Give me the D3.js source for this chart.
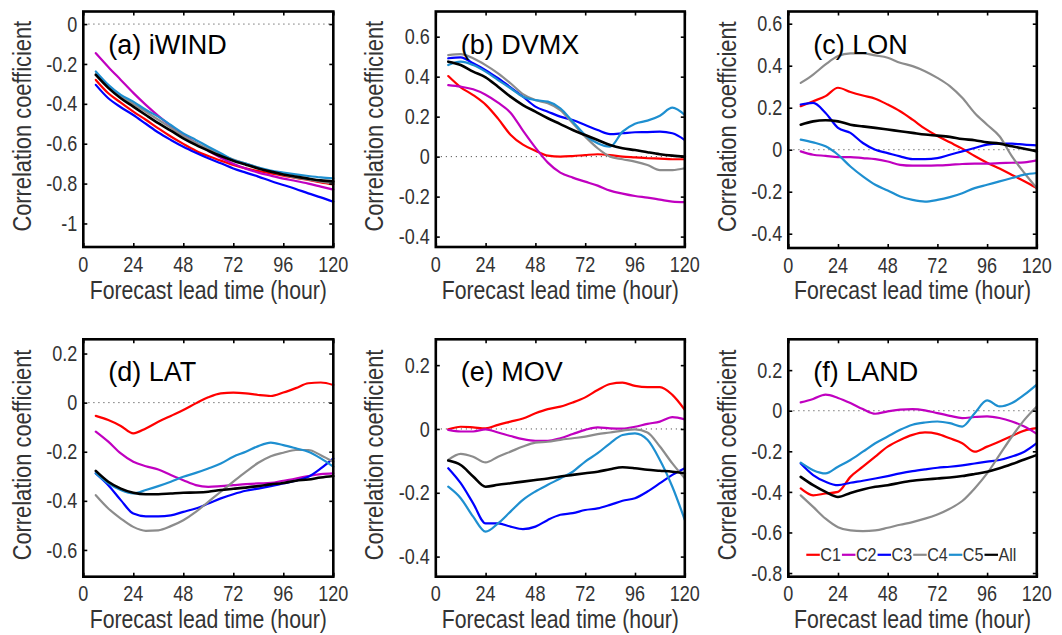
<!DOCTYPE html>
<html>
<head>
<meta charset="utf-8">
<script src="https://cdn.jsdelivr.net/npm/d3@7"></script>
<style>
  html, body { margin: 0; padding: 0; background: #fff; }
  svg { display: block; font-family: Arial, "Liberation Sans", Helvetica, sans-serif; }
</style>
</head>
<body>
<svg id="chart" width="1062" height="635"></svg>
<script>
// Forecast lead times (hours)
const hours = [6, 12, 18, 24, 30, 36, 42, 48, 54, 60, 66, 72, 78, 84, 90, 96, 102, 108, 114, 120];

const seriesNames = ["C1", "C2", "C3", "C4", "C5", "All"];
const seriesColors = ["#ff0000", "#c000c0", "#0000ff", "#8c8c8c", "#1e8fd0", "#000000"];
const xTicks = [0, 24, 48, 72, 96, 120];

// Correlation coefficients per predictor, one array per cluster
const iwindC1 = [-0.28, -0.347, -0.394, -0.439, -0.48, -0.523, -0.564, -0.601, -0.635, -0.662, -0.685, -0.707, -0.724, -0.737, -0.749, -0.76, -0.772, -0.782, -0.794, -0.804];
const iwindC2 = [-0.146, -0.215, -0.28, -0.345, -0.405, -0.46, -0.51, -0.555, -0.595, -0.635, -0.67, -0.70, -0.725, -0.745, -0.76, -0.775, -0.787, -0.80, -0.815, -0.83];
const iwindC3 = [-0.305, -0.372, -0.417, -0.456, -0.50, -0.544, -0.581, -0.615, -0.645, -0.673, -0.698, -0.724, -0.745, -0.765, -0.787, -0.807, -0.827, -0.849, -0.869, -0.891];
const iwindC4 = [-0.25, -0.31, -0.36, -0.40, -0.44, -0.48, -0.52, -0.56, -0.595, -0.625, -0.655, -0.68, -0.70, -0.72, -0.74, -0.755, -0.77, -0.78, -0.79, -0.80];
const iwindC5 = [-0.238, -0.305, -0.355, -0.389, -0.43, -0.464, -0.506, -0.548, -0.581, -0.615, -0.648, -0.682, -0.70, -0.72, -0.735, -0.745, -0.754, -0.762, -0.769, -0.774];
const iwindAll = [-0.255, -0.32, -0.372, -0.414, -0.456, -0.497, -0.534, -0.573, -0.606, -0.635, -0.662, -0.685, -0.705, -0.724, -0.74, -0.754, -0.765, -0.775, -0.784, -0.79];

const dvmxC1 = [0.403, 0.347, 0.308, 0.26, 0.19, 0.11, 0.06, 0.03, 0.005, 0, 0.003, 0.008, 0.012, 0.008, 0.0, -0.004, -0.008, -0.01, -0.013, -0.013];
const dvmxC2 = [0.358, 0.35, 0.337, 0.31, 0.27, 0.22, 0.13, 0.045, -0.03, -0.08, -0.105, -0.125, -0.145, -0.17, -0.185, -0.197, -0.205, -0.215, -0.225, -0.228];
const dvmxC3 = [0.492, 0.497, 0.467, 0.433, 0.392, 0.347, 0.30, 0.25, 0.225, 0.20, 0.183, 0.158, 0.133, 0.113, 0.117, 0.122, 0.123, 0.125, 0.117, 0.083];
const dvmxC4 = [0.508, 0.513, 0.492, 0.458, 0.417, 0.367, 0.313, 0.283, 0.267, 0.233, 0.167, 0.10, 0.042, 0, -0.013, -0.025, -0.042, -0.067, -0.067, -0.058];
const dvmxC5 = [0.458, 0.475, 0.458, 0.425, 0.383, 0.342, 0.30, 0.283, 0.275, 0.242, 0.175, 0.108, 0.067, 0.05, 0.125, 0.165, 0.18, 0.205, 0.245, 0.208];
const dvmxAll = [0.475, 0.458, 0.425, 0.397, 0.35, 0.30, 0.258, 0.225, 0.192, 0.163, 0.133, 0.108, 0.083, 0.058, 0.042, 0.033, 0.022, 0.012, 0.005, 0];

const lonC1 = [0.207, 0.231, 0.255, 0.295, 0.275, 0.258, 0.243, 0.215, 0.183, 0.143, 0.10, 0.065, 0.035, 0.005, -0.03, -0.062, -0.09, -0.12, -0.15, -0.183];
const lonC2 = [-0.008, -0.024, -0.029, -0.035, -0.035, -0.04, -0.045, -0.056, -0.072, -0.076, -0.076, -0.075, -0.072, -0.068, -0.066, -0.066, -0.064, -0.062, -0.06, -0.051];
const lonC3 = [0.215, 0.223, 0.175, 0.104, 0.08, 0.032, 0, -0.016, -0.032, -0.045, -0.045, -0.04, -0.024, -0.008, 0.008, 0.024, 0.029, 0.029, 0.024, 0.021];
const lonC4 = [0.318, 0.358, 0.406, 0.446, 0.459, 0.459, 0.449, 0.438, 0.414, 0.398, 0.374, 0.342, 0.303, 0.247, 0.175, 0.119, 0.064, -0.032, -0.111, -0.183];
const lonC5 = [0.048, 0.035, 0.016, -0.024, -0.08, -0.127, -0.167, -0.194, -0.223, -0.239, -0.247, -0.239, -0.226, -0.207, -0.183, -0.167, -0.151, -0.135, -0.119, -0.111];
const lonAll = [0.119, 0.135, 0.14, 0.135, 0.119, 0.111, 0.104, 0.096, 0.088, 0.08, 0.072, 0.067, 0.061, 0.051, 0.045, 0.035, 0.029, 0.016, 0.005, -0.008];

const latC1 = [-0.054, -0.071, -0.095, -0.125, -0.105, -0.078, -0.054, -0.03, -0.003, 0.022, 0.038, 0.041, 0.038, 0.031, 0.027, 0.041, 0.059, 0.079, 0.082, 0.072];
const latC2 = [-0.118, -0.159, -0.207, -0.241, -0.259, -0.272, -0.295, -0.316, -0.336, -0.343, -0.34, -0.336, -0.332, -0.329, -0.327, -0.318, -0.309, -0.299, -0.291, -0.288];
const latC3 = [-0.288, -0.336, -0.397, -0.452, -0.463, -0.463, -0.459, -0.445, -0.431, -0.411, -0.39, -0.373, -0.359, -0.35, -0.34, -0.329, -0.318, -0.302, -0.268, -0.227];
const latC4 = [-0.377, -0.431, -0.472, -0.506, -0.522, -0.52, -0.503, -0.479, -0.445, -0.404, -0.363, -0.322, -0.282, -0.245, -0.218, -0.204, -0.193, -0.193, -0.214, -0.241];
const latC5 = [-0.288, -0.329, -0.356, -0.37, -0.356, -0.34, -0.322, -0.302, -0.286, -0.268, -0.248, -0.22, -0.2, -0.177, -0.163, -0.173, -0.186, -0.2, -0.227, -0.261];
const latAll = [-0.278, -0.322, -0.35, -0.367, -0.373, -0.373, -0.37, -0.367, -0.366, -0.363, -0.356, -0.351, -0.346, -0.34, -0.333, -0.327, -0.318, -0.313, -0.305, -0.299];

const movC1 = [-0.001, 0.007, 0.005, 0.002, 0.013, 0.023, 0.033, 0.049, 0.062, 0.07, 0.083, 0.099, 0.122, 0.141, 0.145, 0.135, 0.131, 0.131, 0.107, 0.06];
const movC2 = [-0.003, -0.008, -0.008, -0.001, -0.011, -0.022, -0.032, -0.037, -0.037, -0.029, -0.016, -0.003, 0.005, 0.002, 0.001, 0.007, 0.016, 0.023, 0.037, 0.03];
const movC3 = [-0.123, -0.17, -0.233, -0.296, -0.296, -0.306, -0.314, -0.306, -0.285, -0.269, -0.264, -0.254, -0.249, -0.238, -0.225, -0.217, -0.196, -0.17, -0.144, -0.123];
const movC4 = [-0.097, -0.078, -0.087, -0.105, -0.087, -0.071, -0.055, -0.043, -0.04, -0.034, -0.029, -0.024, -0.016, -0.011, -0.005, -0.001, -0.011, -0.055, -0.108, -0.155];
const movC5 = [-0.181, -0.217, -0.275, -0.322, -0.296, -0.259, -0.222, -0.196, -0.175, -0.155, -0.134, -0.102, -0.076, -0.045, -0.019, -0.014, -0.034, -0.097, -0.181, -0.285];
const movAll = [-0.099, -0.113, -0.149, -0.181, -0.175, -0.17, -0.165, -0.16, -0.155, -0.149, -0.144, -0.139, -0.134, -0.126, -0.12, -0.123, -0.128, -0.131, -0.134, -0.139];

const landC1 = [-0.383, -0.417, -0.408, -0.4, -0.326, -0.276, -0.226, -0.177, -0.144, -0.119, -0.107, -0.114, -0.136, -0.16, -0.202, -0.177, -0.152, -0.124, -0.098, -0.086];
const landC2 = [0.041, 0.058, 0.079, 0.063, 0.038, 0.008, -0.015, -0.003, 0.005, 0.008, 0.002, -0.012, -0.025, -0.036, -0.031, -0.028, -0.036, -0.053, -0.078, -0.114];
const landC3 = [-0.26, -0.317, -0.35, -0.367, -0.355, -0.345, -0.334, -0.322, -0.309, -0.298, -0.289, -0.281, -0.276, -0.269, -0.26, -0.251, -0.243, -0.226, -0.202, -0.16];
const landC4 = [-0.417, -0.474, -0.532, -0.574, -0.59, -0.593, -0.59, -0.577, -0.562, -0.549, -0.532, -0.511, -0.483, -0.445, -0.383, -0.309, -0.218, -0.127, -0.045, 0.021];
const landC5 = [-0.256, -0.293, -0.309, -0.276, -0.243, -0.202, -0.16, -0.127, -0.094, -0.069, -0.058, -0.053, -0.061, -0.078, -0.012, 0.051, 0.021, 0.038, 0.079, 0.129];
const landAll = [-0.326, -0.367, -0.4, -0.425, -0.405, -0.388, -0.375, -0.367, -0.355, -0.345, -0.339, -0.334, -0.329, -0.322, -0.312, -0.301, -0.284, -0.263, -0.24, -0.218];

// y tick labels per panel
const iwindTicks = [0, -0.2, -0.4, -0.6, -0.8, -1];
const dvmxTicks = [0.6, 0.4, 0.2, 0, -0.2, -0.4];
const lonTicks = [0.6, 0.4, 0.2, 0, -0.2, -0.4];
const latTicks = [0.2, 0, -0.2, -0.4, -0.6];
const movTicks = [0.2, 0, -0.2, -0.4];
const landTicks = [0.2, 0, -0.2, -0.4, -0.6, -0.8];

// Panel layout: frame position and y range
const panels = [
  { title: "(a) iWIND", series: [iwindC1, iwindC2, iwindC3, iwindC4, iwindC5, iwindAll], yTicks: iwindTicks, yDomain: [-1.118, 0.063], x0: 83.3, y0: 11.5, w: 250, h: 235.5, xLabelDy: 52 },
  { title: "(b) DVMX", series: [dvmxC1, dvmxC2, dvmxC3, dvmxC4, dvmxC5, dvmxAll], yTicks: dvmxTicks, yDomain: [-0.452, 0.726], x0: 435.8, y0: 11.5, w: 249, h: 235.5, xLabelDy: 52 },
  { title: "(c) LON", series: [lonC1, lonC2, lonC3, lonC4, lonC5, lonAll], yTicks: lonTicks, yDomain: [-0.468, 0.658], x0: 788.3, y0: 11.5, w: 248.5, h: 236.5, xLabelDy: 51 },
  { title: "(d) LAT", series: [latC1, latC2, latC3, latC4, latC5, latAll], yTicks: latTicks, yDomain: [-0.709, 0.258], x0: 83.3, y0: 339.3, w: 250, h: 237.4, xLabelDy: 51.5 },
  { title: "(e) MOV", series: [movC1, movC2, movC3, movC4, movC5, movAll], yTicks: movTicks, yDomain: [-0.463, 0.281], x0: 435.8, y0: 339.3, w: 249, h: 237.4, xLabelDy: 51.5 },
  { title: "(f) LAND", series: [landC1, landC2, landC3, landC4, landC5, landAll], yTicks: landTicks, yDomain: [-0.818, 0.352], x0: 788.3, y0: 339.3, w: 248.5, h: 237.4, xLabelDy: 51.5, legend: true }
];

const svg = d3.select("#chart");
svg.append("rect").attr("width", 1062).attr("height", 635).attr("fill", "#fff");

const TEXT = "#333";

// Text with horizontally condensed glyphs; rotation is applied outside the condensing
function txt(g, x, y, s, opt) {
  const o = Object.assign({ size: 22, sx: 0.8, anchor: "middle", fill: TEXT, rotate: 0, baseline: null }, opt || {});
  const t = g.append("text")
    .attr("transform", `translate(${x},${y})` + (o.rotate ? ` rotate(${o.rotate})` : "") + ` scale(${o.sx},1)`)
    .attr("text-anchor", o.anchor)
    .attr("font-size", o.size)
    .attr("fill", o.fill)
    .text(s);
  if (o.baseline) t.attr("dominant-baseline", o.baseline);
  return t;
}

const fmt = d => (d === 0 ? "0" : String(d));

panels.forEach(p => {
  const g = svg.append("g").attr("transform", `translate(${p.x0},${p.y0})`);
  const x = d3.scaleLinear().domain([0, 120]).range([0, p.w]);
  const y = d3.scaleLinear().domain(p.yDomain).range([p.h, 0]);

  // zero reference line
  g.append("line")
    .attr("x1", x(0)).attr("x2", x(120))
    .attr("y1", y(0)).attr("y2", y(0))
    .attr("stroke", "#555").attr("stroke-width", 1)
    .attr("stroke-dasharray", "1.2,3.8");

  // curves
  const line = d3.line()
    .x((d, i) => x(hours[i]))
    .y(d => y(d))
    .curve(d3.curveMonotoneX);
  p.series.forEach((vals, k) => {
    g.append("path")
      .datum(vals)
      .attr("d", line)
      .attr("fill", "none")
      .attr("stroke", seriesColors[k])
      .attr("stroke-width", k === 5 ? 2.6 : 2.2)
      .attr("stroke-linejoin", "round")
      .attr("stroke-linecap", "round");
  });

  // axes with inward ticks on all four sides
  const axB = g.append("g").attr("transform", `translate(0,${p.h})`)
    .call(d3.axisBottom(x).tickValues(xTicks).tickSize(-4).tickSizeOuter(0).tickFormat(""));
  const axT = g.append("g")
    .call(d3.axisTop(x).tickValues(xTicks).tickSize(-4).tickSizeOuter(0).tickFormat(""));
  const axL = g.append("g")
    .call(d3.axisLeft(y).tickValues(p.yTicks).tickSize(-4).tickSizeOuter(0).tickFormat(""));
  const axR = g.append("g").attr("transform", `translate(${p.w},0)`)
    .call(d3.axisRight(y).tickValues(p.yTicks).tickSize(-4).tickSizeOuter(0).tickFormat(""));
  [axB, axT, axL, axR].forEach(a => {
    a.select(".domain").remove();
    a.selectAll(".tick line").attr("stroke", "#000").attr("stroke-width", 1.6);
  });

  // tick labels
  xTicks.forEach(t => txt(g, x(t), p.h + 24.5, String(t), { size: 22, sx: 0.82 }));
  p.yTicks.forEach(t => txt(g, -6, y(t), fmt(t), { size: 22, sx: 0.82, anchor: "end", baseline: "central" }));

  // frame
  g.append("rect")
    .attr("x", 0).attr("y", 0).attr("width", p.w).attr("height", p.h)
    .attr("fill", "none").attr("stroke", "#000").attr("stroke-width", 2.6);

  // axis titles
  txt(g, p.w / 2, p.h + p.xLabelDy, "Forecast lead time (hour)", { size: 25, sx: 0.85 });
  txt(g, -62, p.h / 2 - 3, "Correlation coefficient", { size: 26, sx: 0.84, rotate: -90, baseline: "central" });

  // panel title
  txt(g, 25, 42, p.title, { size: 27, sx: 1, anchor: "start", fill: "#000" });

  // legend
  if (p.legend) {
    const lg = g.append("g").attr("transform", `translate(18,${y(-0.71)})`);
    let cx = 0;
    seriesNames.forEach((name, k) => {
      lg.append("line")
        .attr("x1", cx).attr("x2", cx + 13.5).attr("y1", 0).attr("y2", 0)
        .attr("stroke", seriesColors[k]).attr("stroke-width", 2.2);
      cx += 14;
      const t = txt(lg, cx, 0, name, { size: 19, sx: 0.85, anchor: "start", baseline: "central" });
      cx += t.node().getComputedTextLength() * 0.85 + 1;
    });
  }
});
</script>
</body>
</html>
